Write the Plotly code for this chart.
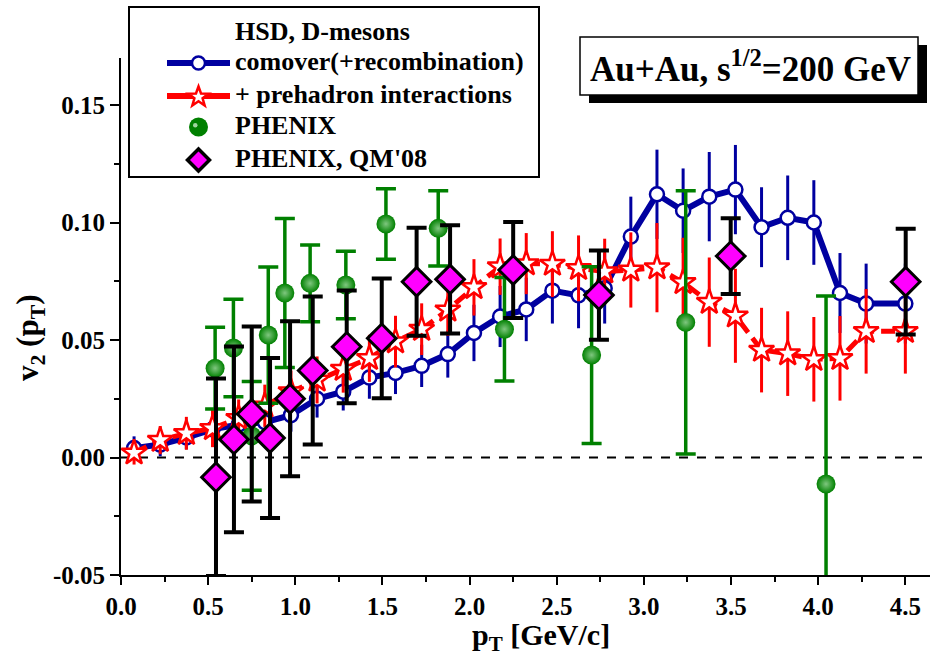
import math
import plotly.graph_objects as go

# HSD transport model: D-meson elliptic flow
pt_model = [0.075, 0.225, 0.375, 0.525, 0.675, 0.825, 0.975, 1.125, 1.275, 1.425,
            1.575, 1.725, 1.875, 2.025, 2.175, 2.325, 2.475, 2.625, 2.775, 2.925,
            3.075, 3.225, 3.375, 3.525, 3.675, 3.825, 3.975, 4.125, 4.275, 4.5]
v2_comover = [0.004, 0.0055, 0.0085, 0.012, 0.014, 0.015, 0.018, 0.025, 0.028, 0.034,
              0.036, 0.039, 0.044, 0.053, 0.060, 0.063, 0.071, 0.069, 0.072, 0.094,
              0.112, 0.105, 0.111, 0.114, 0.098, 0.102, 0.100, 0.070, 0.0655, 0.0655]
err_comover = [0.005, 0.005, 0.005, 0.006, 0.006, 0.007, 0.007, 0.008, 0.008, 0.009,
               0.009, 0.009, 0.010, 0.012, 0.013, 0.0135, 0.014, 0.014, 0.015, 0.017,
               0.019, 0.018, 0.019, 0.019, 0.017, 0.018, 0.018, 0.017, 0.017, 0.017]
v2_prehadron = [0.002, 0.0074, 0.0103, 0.0124, 0.0167, 0.022, 0.028, 0.033, 0.0376, 0.0422,
                0.0493, 0.0546, 0.0628, 0.0724, 0.0812, 0.0825, 0.0823, 0.0805, 0.0791, 0.0798,
                0.0808, 0.0745, 0.0661, 0.0603, 0.0457, 0.0442, 0.0418, 0.0422, 0.0537, 0.0537]
err_prehadron = [0.005, 0.006, 0.007, 0.008, 0.008, 0.009, 0.009, 0.010, 0.010, 0.010,
                 0.011, 0.011, 0.011, 0.012, 0.012, 0.013, 0.014, 0.014, 0.014, 0.016,
                 0.019, 0.019, 0.019, 0.020, 0.018, 0.018, 0.018, 0.018, 0.018, 0.018]

# PHENIX measurements
pt_phenix = [0.54, 0.645, 0.75, 0.845, 0.94, 1.085, 1.29, 1.52, 1.82, 2.2, 2.7, 3.24, 4.045]
v2_phenix = [0.038, 0.0466, 0.0092, 0.0521, 0.070, 0.0741, 0.0734, 0.0994, 0.0975,
             0.0546, 0.0436, 0.0575, -0.0113]
err_phenix = [0.0174, 0.0207, 0.0231, 0.029, 0.0317, 0.0163, 0.0144, 0.015, 0.016,
              0.022, 0.0376, 0.056, 0.080]

pt_qm08 = [0.545, 0.648, 0.75, 0.855, 0.97, 1.1, 1.295, 1.496, 1.696, 1.888, 2.25,
           2.742, 3.498, 4.502]
v2_qm08 = [-0.0084, 0.0077, 0.0185, 0.0083, 0.025, 0.037, 0.0471, 0.0507, 0.0748,
           0.0758, 0.0798, 0.0691, 0.0857, 0.0748]
err_qm08 = [0.042, 0.0395, 0.0372, 0.034, 0.033, 0.0315, 0.024, 0.0255, 0.023, 0.023,
            0.0204, 0.019, 0.0161, 0.0225]

x_ticks = [0.0, 0.5, 1.0, 1.5, 2.0, 2.5, 3.0, 3.5, 4.0, 4.5]
y_ticks = [-0.05, 0.0, 0.05, 0.10, 0.15]

legend_title = "HSD, D-mesons"
legend_labels = ["comover(+recombination)", "+ prehadron interactions",
                 "PHENIX", "PHENIX, QM'08"]

SERIF = "Liberation Serif, Times New Roman, serif"
BLUE = "#0000a0"
RED = "#ff0000"
GREEN = "#008000"
MAGENTA = "#ff00ff"

# page geometry (pixels) of the plotting area
W, H = 930, 657
L, R, T, B = 121, 0, 58, 82
PW, PH = W - L - R, H - T - B


def fx(xpix):
    return (xpix - L) / PW


def fy(ypix):
    return (H - B - ypix) / PH


fig = go.Figure()

fig.add_trace(go.Scatter(
    x=pt_model, y=v2_comover, mode="lines+markers", name=legend_labels[0],
    line=dict(color=BLUE, width=6),
    marker=dict(symbol="circle", size=14, color="white", line=dict(color=BLUE, width=2.5)),
    error_y=dict(type="data", array=err_comover, color=BLUE, thickness=3, width=0),
))
fig.add_trace(go.Scatter(
    x=pt_model, y=v2_prehadron, mode="lines+markers", name=legend_labels[1],
    line=dict(color=RED, width=5, dash="14px,7px"),
    marker=dict(symbol="star", size=19, color="white", line=dict(color=RED, width=2.5)),
    error_y=dict(type="data", array=err_prehadron, color=RED, thickness=3, width=0),
))
fig.add_trace(go.Scatter(
    x=pt_phenix, y=v2_phenix, mode="markers", name=legend_labels[2],
    marker=dict(symbol="circle", size=19, color=GREEN, line=dict(width=0),
                gradient=dict(type="radial", color="#7fc77f")),
    error_y=dict(type="data", array=err_phenix, color=GREEN, thickness=3.5, width=10),
))
fig.add_trace(go.Scatter(
    x=pt_qm08, y=v2_qm08, mode="markers", name=legend_labels[3],
    marker=dict(symbol="diamond", size=22, color=MAGENTA, line=dict(color="black", width=3)),
    error_y=dict(type="data", array=err_qm08, color="black", thickness=4, width=10),
))

# dashed zero line
fig.add_shape(type="line", xref="paper", x0=0, x1=1, yref="y", y0=0, y1=0,
              line=dict(color="black", width=2, dash="dash"), layer="below")

# system label box with drop shadow
fig.add_shape(type="rect", xref="paper", yref="paper",
              x0=fx(589), x1=fx(927), y0=fy(103), y1=fy(45),
              fillcolor="black", line=dict(width=0), layer="above")
fig.add_shape(type="rect", xref="paper", yref="paper",
              x0=fx(580), x1=fx(918), y0=fy(95), y1=fy(37),
              fillcolor="white", line=dict(color="black", width=1.5), layer="above")
fig.add_annotation(xref="paper", yref="paper", x=fx(750), y=fy(66),
                   text="Au+Au, s<sup>1/2</sup>=200 GeV", showarrow=False,
                   xanchor="center", yanchor="middle",
                   font=dict(family=SERIF, size=35, color="black", weight="bold"))

# legend: framed box, keys and labels
fig.add_shape(type="rect", xref="paper", yref="paper",
              x0=fx(129), x1=fx(539), y0=fy(177), y1=fy(7),
              fillcolor="white", line=dict(color="black", width=2), layer="above")

key_x0, key_x1, key_xc = 167, 230, 198.5
row_y = [63, 96, 127, 160]


def poly_path(points):
    return "M " + " L ".join(f"{fx(px):.5f},{fy(py):.5f}" for px, py in points) + " Z"


# comover key: line with open circle
fig.add_shape(type="line", xref="paper", yref="paper",
              x0=fx(key_x0), x1=fx(key_x1), y0=fy(row_y[0]), y1=fy(row_y[0]),
              line=dict(color=BLUE, width=6), layer="above")
fig.add_shape(type="circle", xref="paper", yref="paper",
              x0=fx(key_xc - 6.5), x1=fx(key_xc + 6.5),
              y0=fy(row_y[0] + 6.5), y1=fy(row_y[0] - 6.5),
              fillcolor="white", line=dict(color=BLUE, width=2.5), layer="above")

# prehadron key: line with open star
fig.add_shape(type="line", xref="paper", yref="paper",
              x0=fx(key_x0), x1=fx(key_x1), y0=fy(row_y[1]), y1=fy(row_y[1]),
              line=dict(color=RED, width=6), layer="above")
star_pts = []
for k in range(10):
    rad = 10.5 if k % 2 == 0 else 4.3
    ang = -math.pi / 2 + k * math.pi / 5
    star_pts.append((key_xc + rad * math.cos(ang), row_y[1] + 1 + rad * math.sin(ang)))
fig.add_shape(type="path", xref="paper", yref="paper", path=poly_path(star_pts),
              fillcolor="white", line=dict(color=RED, width=2.5), layer="above")

# PHENIX key: shaded sphere
fig.add_shape(type="circle", xref="paper", yref="paper",
              x0=fx(key_xc - 9.5), x1=fx(key_xc + 9.5),
              y0=fy(row_y[2] + 9.5), y1=fy(row_y[2] - 9.5),
              fillcolor=GREEN, line=dict(width=0), layer="above")
fig.add_shape(type="circle", xref="paper", yref="paper",
              x0=fx(key_xc - 5.5), x1=fx(key_xc - 1.0),
              y0=fy(row_y[2] + 0.5), y1=fy(row_y[2] - 4.0),
              fillcolor="#9fd69f", line=dict(width=0), layer="above")

# QM'08 key: magenta diamond
dia = [(key_xc, row_y[3] - 11), (key_xc + 11, row_y[3]),
       (key_xc, row_y[3] + 11), (key_xc - 11, row_y[3])]
fig.add_shape(type="path", xref="paper", yref="paper", path=poly_path(dia),
              fillcolor=MAGENTA, line=dict(color="black", width=3.5), layer="above")

legend_font = dict(family=SERIF, size=26, color="black", weight="bold")
fig.add_annotation(xref="paper", yref="paper", x=fx(233), y=fy(31), text=legend_title,
                   showarrow=False, xanchor="left", yanchor="middle", font=legend_font)
for label, ypix in zip(legend_labels, row_y):
    fig.add_annotation(xref="paper", yref="paper", x=fx(233), y=fy(ypix - 2), text=label,
                       showarrow=False, xanchor="left", yanchor="middle", font=legend_font)

# axis titles
fig.add_annotation(xref="paper", yref="paper", x=fx(541), y=fy(637),
                   text="p<sub>T</sub> [GeV/c]", showarrow=False,
                   xanchor="center", yanchor="middle", borderpad=0,
                   font=dict(family=SERIF, size=30, color="black", weight="bold"))
fig.add_annotation(xref="paper", yref="paper", x=fx(30), y=fy(338),
                   text="v<sub>2</sub> (p<sub>T</sub>)", showarrow=False, textangle=-90,
                   xanchor="center", yanchor="middle",
                   font=dict(family=SERIF, size=31, color="black", weight="bold"))

axis_common = dict(showgrid=False, zeroline=False, showline=True, linecolor="black",
                   linewidth=2)
x_range = [0, PW / 174.3]
y_range = [-0.05, 0.17]

fig.update_layout(
    width=W, height=H,
    margin=dict(l=L, r=R, t=T, b=B),
    paper_bgcolor="white", plot_bgcolor="white",
    showlegend=False,
    xaxis=dict(
        **axis_common, range=x_range,
        tickmode="array", tickvals=x_ticks, ticktext=[f"{v:.1f}" for v in x_ticks],
        ticks="outside", ticklen=8, tickwidth=2, tickcolor="black",
        minor=dict(dtick=0.25, ticks="outside", ticklen=5, tickwidth=2, tickcolor="black"),
        tickfont=dict(family=SERIF, size=25, color="black", weight="bold"),
        automargin=False,
    ),
    yaxis=dict(
        **axis_common, range=y_range,
        tickmode="array", tickvals=y_ticks, ticktext=[f"{v:.2f}" for v in y_ticks],
        ticks="outside", ticklen=9, tickwidth=2, tickcolor="black",
        minor=dict(dtick=0.025, ticks="outside", ticklen=5, tickwidth=2, tickcolor="black"),
        tickfont=dict(family=SERIF, size=25, color="black", weight="bold"),
        automargin=False,
    ),
    xaxis2=dict(
        **axis_common, overlaying="x", side="top", anchor="y", range=x_range,
        tickmode="array", tickvals=x_ticks, ticks="inside", ticklen=7, tickwidth=2,
        tickcolor="black", showticklabels=False,
    ),
    yaxis2=dict(
        **axis_common, overlaying="y", side="right", anchor="x", range=y_range,
        tickmode="array", tickvals=y_ticks, ticks="inside", ticklen=7, tickwidth=2,
        tickcolor="black", showticklabels=False,
    ),
)

fig.write_html("out.html")
